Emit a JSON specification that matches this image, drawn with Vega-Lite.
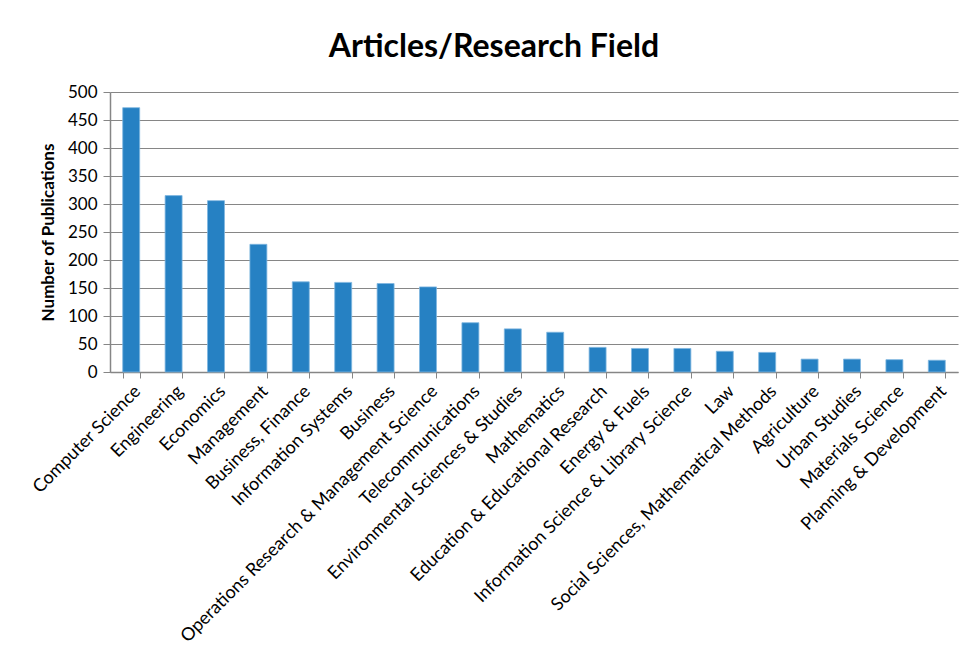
{
  "$schema": "https://vega.github.io/schema/vega-lite/v6.json",
  "autosize": "none",
  "width": 848,
  "height": 280,
  "padding": {"left": 110, "top": 92, "right": 11, "bottom": 287},
  "background": "white",
  "title": {
    "text": "Articles/Research Field",
    "font": "Lato",
    "fontSize": 32,
    "fontWeight": "bold",
    "color": "#000000",
    "anchor": "middle",
    "dx": -40,
    "offset": 19
  },
  "data": {
    "values": [
      {"field": "Computer Science", "count": 472},
      {"field": "Engineering", "count": 315},
      {"field": "Economics", "count": 306},
      {"field": "Management", "count": 228},
      {"field": "Business, Finance", "count": 161},
      {"field": "Information Systems", "count": 160},
      {"field": "Business", "count": 158},
      {"field": "Operations Research & Management Science", "count": 152},
      {"field": "Telecommunications", "count": 88},
      {"field": "Environmental Sciences & Studies", "count": 77},
      {"field": "Mathematics", "count": 71},
      {"field": "Education & Educational Research", "count": 44},
      {"field": "Energy & Fuels", "count": 42},
      {"field": "Information Science & Library Science", "count": 42},
      {"field": "Law", "count": 37},
      {"field": "Social Sciences, Mathematical Methods", "count": 35},
      {"field": "Agriculture", "count": 23},
      {"field": "Urban Studies", "count": 23},
      {"field": "Materials Science", "count": 22},
      {"field": "Planning & Development", "count": 21}
    ]
  },
  "mark": {"type": "bar", "color": "#2681C3", "stroke": "#7FB6E0", "strokeWidth": 0.8},
  "encoding": {
    "x": {
      "field": "field",
      "type": "nominal",
      "sort": null,
      "scale": {"paddingInner": 0.6, "paddingOuter": 0.3},
      "axis": {
        "title": null,
        "labelAngle": -45,
        "labelAlign": "right",
        "labelBaseline": "top",
        "labelFont": "Lato",
        "labelFontSize": 18,
        "labelColor": "#000000",
        "labelPadding": 4,
        "labelLimit": 500,
        "tickBand": "extent",
        "tickSize": 6,
        "tickColor": "#868686",
        "domainColor": "#868686",
        "domainWidth": 1.5
      }
    },
    "y": {
      "field": "count",
      "type": "quantitative",
      "scale": {"domain": [0, 500], "nice": false},
      "axis": {
        "title": "Number of Publications",
        "titleFont": "Lato",
        "titleFontSize": 17,
        "titleFontWeight": "bold",
        "titleColor": "#000000",
        "titlePadding": 10,
        "values": [0, 50, 100, 150, 200, 250, 300, 350, 400, 450, 500],
        "labelFont": "Lato",
        "labelFontSize": 17,
        "labelColor": "#000000",
        "labelPadding": 6,
        "tickSize": 7,
        "tickColor": "#868686",
        "domainColor": "#868686",
        "domainWidth": 1.5,
        "grid": true,
        "gridColor": "#868686",
        "gridWidth": 1.2
      }
    }
  },
  "config": {"view": {"stroke": null}}
}
